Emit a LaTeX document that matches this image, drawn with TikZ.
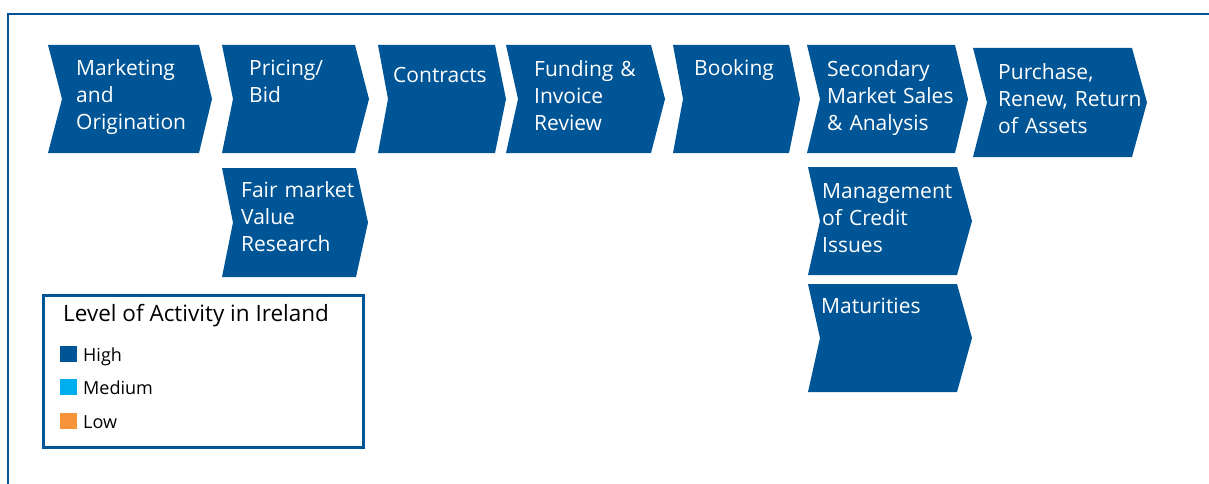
\documentclass[tikz,border=0pt]{standalone}
\usepackage{fontspec}
\setmainfont{Open Sans}
\usepackage{xcolor}
\usetikzlibrary{calc,positioning}
\definecolor{actblue}{RGB}{0,85,150}
\definecolor{medblue}{RGB}{0,174,239}
\definecolor{loworange}{RGB}{247,148,58}

\begin{document}
\begin{tikzpicture}[x=1pt,y=-1pt,
  chevtext/.style={anchor=base west,inner sep=0pt,text width=160pt,align=left,
    text=white,font=\fontsize{21}{27}\selectfont},
  legtext/.style={anchor=base west,inner sep=0pt,font=\fontsize{18}{20}\selectfont}]
  \useasboundingbox (0,0) rectangle (1209,484);
  \draw[actblue,line width=2.3pt] (8.3,484) -- (8.3,13.8) -- (1209,13.8);
  % chevrons: name/left/top/right/bottom/tip/notch/text x/text y/text
  \foreach \nm/\l/\t/\r/\b/\tp/\nt/\tx/\ty/\txt in {
    mkt/48/45/199/153/212/62/76/76/{Marketing\\and\\Origination},
    bid/222/45/355/153/369/233/249/76/{Pricing\slash\\Bid},
    ctr/378/45/495/153/506/388/393/83/{Contracts},
    fund/506/45/651/153/665/518/534/77/{Funding \&\\Invoice\\Review},
    book/673/45/789/153/800/683/694/76/{Booking},
    sec/807/45/955/153/968/820/827/77/{Secondary\\Market Sales\\\& Analysis},
    pur/973/48/1132/157/1147/987/998/80/{Purchase,\\Renew, Return\\of Assets},
    fmv/222/168/356/277/368/233/241/197/{Fair market\\Value\\Research},
    cred/808/167/957/275/972/820/822/198/{Management\\of Credit\\Issues},
    mat/808/284/957/392/972/820/821/313/{Maturities}}
  {
    \fill[actblue] (\l,\t) -- (\r,\t) -- (\tp,{(\t+\b)/2}) -- (\r,\b)
      -- (\l,\b) -- (\nt,{(\t+\b)/2}) -- cycle;
    \node[chevtext] (\nm) at (\tx,\ty) {\txt};
  }
  % legend
  \draw[actblue,line width=3pt] (43.5,295.5) rectangle (363.5,447.5);
  \node[anchor=base west,inner sep=0pt,font=\fontsize{22.5}{25}\selectfont] (legtitle)
    at (63,321) {Level of Activity in Ireland};
  \foreach \nm/\c/\y/\txt in {high/actblue/361/High,med/medblue/394/Medium,low/loworange/428/Low}
  {
    \fill[\c] (60,\y-15) rectangle (77,\y+1);
    \node[legtext] (\nm) at (83,\y) {\txt};
  }
\end{tikzpicture}
\end{document}
